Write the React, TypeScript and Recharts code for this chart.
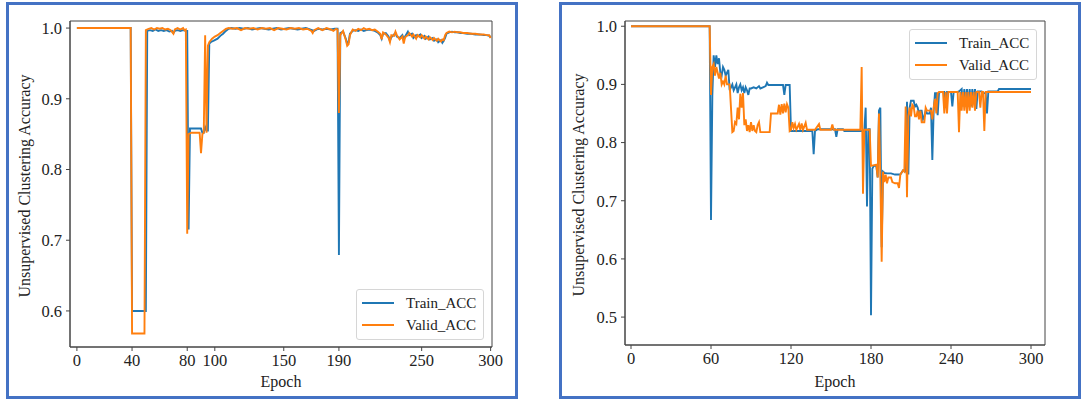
import { LineChart, Line, XAxis, YAxis, Legend, ReferenceArea } from "recharts";

const leftTicksX = [0, 40, 80, 100, 150, 190, 250, 300];
const leftTicksY = [0.6, 0.7, 0.8, 0.9, 1.0];
const rightTicksX = [0, 60, 120, 180, 240, 300];
const rightTicksY = [0.5, 0.6, 0.7, 0.8, 0.9, 1.0];

// [epoch, accuracy]
const leftTrain: [number, number][] = [
  [0, 1.0], [39, 1.0], [40, 0.6], [50, 0.6], [51, 0.996], [53, 0.997], [55, 0.996], [57, 0.998],
  [59, 0.996], [61, 0.997], [63, 0.996], [65, 0.997], [67, 0.995], [69, 0.996], [70, 0.993], [71, 0.996],
  [73, 0.997], [75, 0.996], [77, 0.997], [79, 0.996], [80, 0.996], [81, 0.715], [82, 0.858], [84, 0.858],
  [86, 0.858], [88, 0.858], [90, 0.858], [91, 0.852], [92, 0.852], [93, 0.86], [94, 0.855], [95, 0.855],
  [96, 0.978], [97, 0.98], [98, 0.981], [100, 0.983], [102, 0.985], [104, 0.989], [106, 0.992], [108, 0.996],
  [110, 0.999], [112, 1.0], [115, 0.999], [118, 1.0], [121, 0.999], [124, 1.0], [127, 0.998], [130, 0.999],
  [133, 1.0], [136, 0.999], [139, 0.998], [142, 0.999], [145, 1.0], [148, 0.998], [151, 0.999], [154, 1.0],
  [157, 0.999], [160, 0.998], [163, 0.999], [166, 1.0], [169, 0.998], [172, 0.996], [175, 0.999], [178, 0.998],
  [181, 0.999], [184, 0.998], [187, 0.999], [189, 0.999], [190, 0.679], [191, 0.993], [193, 0.995], [195, 0.985],
  [196, 0.978], [197, 0.98], [198, 0.992], [200, 0.996], [202, 0.997], [204, 0.996], [206, 0.998], [208, 0.996],
  [210, 0.997], [212, 0.998], [214, 0.997], [216, 0.996], [218, 0.994], [220, 0.99], [221, 0.985], [222, 0.992],
  [224, 0.993], [226, 0.988], [227, 0.982], [228, 0.987], [230, 0.991], [231, 0.993], [232, 0.988], [234, 0.986],
  [236, 0.99], [237, 0.984], [238, 0.988], [240, 0.995], [241, 0.99], [243, 0.992], [244, 0.986], [246, 0.99],
  [247, 0.988], [249, 0.991], [250, 0.986], [252, 0.989], [253, 0.985], [255, 0.988], [256, 0.984], [258, 0.986],
  [259, 0.982], [261, 0.984], [262, 0.98], [264, 0.983], [265, 0.979], [266, 0.982], [267, 0.986], [268, 0.992],
  [270, 0.994], [272, 0.995], [274, 0.994], [276, 0.994], [278, 0.993], [280, 0.993], [283, 0.992], [286, 0.992],
  [289, 0.991], [292, 0.991], [295, 0.99], [297, 0.99], [299, 0.989], [300, 0.987],
];

const leftValid: [number, number][] = [
  [0, 1.0], [39, 1.0], [40, 0.568], [49, 0.568], [50, 0.997], [52, 0.999], [54, 1.0], [56, 0.998],
  [58, 1.0], [60, 0.999], [62, 1.0], [64, 0.998], [66, 0.999], [68, 0.997], [70, 0.992], [71, 0.998],
  [73, 1.0], [75, 0.998], [77, 1.0], [78, 0.997], [79, 0.998], [80, 0.709], [81, 0.85], [83, 0.852],
  [85, 0.852], [87, 0.852], [89, 0.852], [90, 0.823], [91, 0.85], [92, 0.852], [93, 0.99], [94, 0.852],
  [95, 0.975], [96, 0.98], [98, 0.985], [100, 0.988], [102, 0.99], [104, 0.993], [106, 0.996], [108, 0.999],
  [110, 1.0], [113, 0.999], [116, 1.0], [119, 0.997], [122, 1.0], [125, 0.999], [128, 1.0], [131, 0.998],
  [134, 1.0], [137, 0.999], [140, 1.0], [143, 0.997], [146, 1.0], [149, 0.999], [152, 0.998], [155, 1.0],
  [158, 0.999], [161, 1.0], [164, 0.998], [167, 0.999], [170, 0.996], [171, 0.993], [172, 0.997], [175, 1.0],
  [178, 0.997], [181, 1.0], [184, 0.998], [186, 0.996], [188, 0.999], [189, 0.998], [190, 0.88], [191, 0.99],
  [193, 0.996], [195, 0.983], [196, 0.975], [197, 0.977], [198, 0.99], [200, 0.998], [202, 0.996], [204, 0.999],
  [206, 0.997], [208, 1.0], [210, 0.998], [212, 0.999], [214, 0.997], [216, 0.998], [218, 0.995], [220, 0.992],
  [221, 0.984], [222, 0.994], [224, 0.991], [226, 0.986], [227, 0.98], [228, 0.99], [230, 0.989], [231, 0.995],
  [232, 0.99], [234, 0.984], [236, 0.988], [237, 0.978], [238, 0.987], [240, 0.99], [241, 0.993], [243, 0.988],
  [244, 0.991], [246, 0.985], [247, 0.99], [249, 0.987], [250, 0.99], [252, 0.985], [253, 0.988], [255, 0.984],
  [256, 0.987], [258, 0.983], [259, 0.986], [261, 0.982], [262, 0.985], [264, 0.981], [265, 0.984], [266, 0.983],
  [267, 0.99], [268, 0.993], [270, 0.995], [272, 0.994], [274, 0.995], [276, 0.994], [278, 0.994], [280, 0.993],
  [283, 0.993], [286, 0.992], [289, 0.992], [292, 0.991], [295, 0.991], [297, 0.99], [299, 0.99], [300, 0.986],
];

// [epoch, accuracy]
const rightTrain: [number, number][] = [
  [0, 1.0], [59, 1.0], [60, 0.667], [61, 0.88], [62, 0.95], [63, 0.93], [64, 0.95], [65, 0.935],
  [66, 0.945], [67, 0.92], [68, 0.915], [69, 0.93], [70, 0.925], [71, 0.915], [72, 0.92], [73, 0.925],
  [74, 0.89], [75, 0.895], [76, 0.9], [77, 0.89], [78, 0.895], [79, 0.9], [80, 0.885], [81, 0.895],
  [82, 0.9], [83, 0.89], [84, 0.895], [85, 0.885], [86, 0.895], [87, 0.89], [88, 0.882], [89, 0.893],
  [90, 0.893], [92, 0.895], [94, 0.893], [96, 0.897], [97, 0.893], [99, 0.895], [101, 0.897], [102, 0.903],
  [103, 0.899], [105, 0.899], [110, 0.899], [114, 0.899], [115, 0.882], [116, 0.899], [119, 0.899], [120, 0.82],
  [125, 0.82], [130, 0.82], [136, 0.82], [137, 0.78], [138, 0.82], [140, 0.823], [145, 0.823], [150, 0.823],
  [153, 0.823], [154, 0.81], [155, 0.823], [159, 0.823], [160, 0.82], [170, 0.82], [175, 0.82], [176, 0.86],
  [177, 0.69], [178, 0.823], [179, 0.823], [180, 0.503], [181, 0.755], [182, 0.76], [184, 0.76], [185, 0.74],
  [186, 0.855], [187, 0.86], [188, 0.62], [189, 0.75], [190, 0.748], [192, 0.747], [195, 0.747], [198, 0.745],
  [200, 0.745], [202, 0.745], [204, 0.752], [206, 0.75], [207, 0.87], [208, 0.745], [209, 0.86], [210, 0.872],
  [212, 0.872], [213, 0.862], [214, 0.865], [215, 0.86], [216, 0.85], [217, 0.855], [218, 0.855], [219, 0.84],
  [220, 0.845], [221, 0.855], [222, 0.85], [224, 0.85], [225, 0.86], [226, 0.77], [227, 0.855], [228, 0.885],
  [229, 0.885], [230, 0.847], [231, 0.885], [232, 0.887], [235, 0.887], [236, 0.86], [237, 0.887], [240, 0.887],
  [241, 0.862], [242, 0.887], [245, 0.887], [246, 0.888], [248, 0.892], [249, 0.862], [250, 0.892], [251, 0.862],
  [252, 0.892], [253, 0.862], [254, 0.892], [255, 0.862], [256, 0.892], [257, 0.868], [258, 0.892], [259, 0.858],
  [260, 0.888], [263, 0.888], [264, 0.885], [266, 0.885], [267, 0.85], [268, 0.888], [270, 0.888], [275, 0.888],
  [276, 0.892], [280, 0.892], [290, 0.892], [300, 0.892],
];

const rightValid: [number, number][] = [
  [0, 1.0], [59, 1.0], [60, 0.882], [61, 0.93], [62, 0.935], [63, 0.915], [64, 0.93], [65, 0.92],
  [66, 0.91], [67, 0.92], [68, 0.9], [69, 0.905], [70, 0.9], [71, 0.915], [72, 0.9], [73, 0.9],
  [74, 0.9], [76, 0.818], [77, 0.82], [78, 0.835], [79, 0.832], [80, 0.86], [81, 0.84], [82, 0.884],
  [83, 0.86], [84, 0.885], [85, 0.83], [86, 0.84], [87, 0.82], [88, 0.83], [89, 0.818], [90, 0.835],
  [91, 0.82], [92, 0.83], [93, 0.82], [94, 0.818], [95, 0.83], [96, 0.835], [97, 0.818], [104, 0.818],
  [105, 0.85], [110, 0.85], [111, 0.865], [112, 0.848], [113, 0.866], [114, 0.85], [115, 0.867], [116, 0.852],
  [117, 0.866], [118, 0.86], [119, 0.82], [120, 0.822], [121, 0.835], [122, 0.825], [123, 0.832], [124, 0.822],
  [126, 0.832], [127, 0.822], [128, 0.833], [129, 0.822], [131, 0.834], [132, 0.822], [138, 0.822], [141, 0.832],
  [142, 0.822], [150, 0.822], [151, 0.831], [152, 0.822], [160, 0.822], [172, 0.822], [173, 0.93], [174, 0.712],
  [175, 0.822], [179, 0.822], [180, 0.76], [184, 0.762], [185, 0.74], [186, 0.85], [187, 0.74], [188, 0.595],
  [189, 0.75], [190, 0.732], [191, 0.745], [192, 0.73], [193, 0.74], [195, 0.74], [196, 0.732], [198, 0.73],
  [200, 0.73], [201, 0.722], [202, 0.745], [204, 0.752], [205, 0.75], [206, 0.862], [207, 0.706], [208, 0.845],
  [209, 0.86], [210, 0.845], [211, 0.865], [212, 0.862], [213, 0.845], [214, 0.845], [215, 0.855], [216, 0.84],
  [217, 0.855], [218, 0.835], [220, 0.835], [221, 0.86], [222, 0.855], [225, 0.855], [226, 0.84], [227, 0.86],
  [228, 0.875], [229, 0.85], [230, 0.885], [231, 0.887], [234, 0.887], [235, 0.85], [236, 0.887], [237, 0.85],
  [238, 0.887], [245, 0.887], [246, 0.818], [247, 0.887], [248, 0.855], [249, 0.887], [250, 0.855], [251, 0.887],
  [252, 0.85], [253, 0.887], [254, 0.855], [255, 0.887], [256, 0.86], [257, 0.887], [258, 0.855], [259, 0.887],
  [261, 0.887], [262, 0.86], [263, 0.887], [264, 0.887], [265, 0.82], [266, 0.887], [300, 0.887],
];

const FONT = "'Liberation Serif', 'DejaVu Serif', serif";
const BLUE = "#1f77b4";
const ORANGE = "#ff7f0e";
const AXIS = "#444";

const toRows = (pts: [number, number][]) => pts.map(([epoch, acc]) => ({ epoch, acc }));

interface PanelProps {
  left: number;
  width: number;
  margin: { top: number; right: number; bottom: number; left: number };
  xDomain: [number, number];
  yDomain: [number, number];
  xTicks: number[];
  yTicks: number[];
  train: [number, number][];
  valid: [number, number][];
  legendPos: { left: number; top: number };
  yLabelX: number;
}

function LegendBox({ payload }: any) {
  return (
    <div
      style={{
        width: 126,
        height: 47,
        border: "1px solid #d6d6d6",
        borderRadius: 3,
        background: "rgba(255,255,255,0.85)",
        fontFamily: FONT,
        fontSize: 15,
        color: "#222",
        paddingTop: 2,
        boxSizing: "content-box",
      }}
    >
      {(payload || []).map((p: any) => (
        <div key={p.value} style={{ display: "flex", alignItems: "center", height: 22 }}>
          <div style={{ width: 32, height: 2, background: p.color, marginLeft: 5, marginRight: 12 }} />
          <span>{p.value}</span>
        </div>
      ))}
    </div>
  );
}

function Panel(p: PanelProps) {
  const tickStyle = { fill: "#222", fontSize: 16.5, fontFamily: FONT };
  return (
    <div style={{ position: "absolute", left: p.left, top: 0, fontFamily: FONT }}>
      <LineChart width={p.width} height={403} margin={p.margin} style={{ fontFamily: FONT }}>
        <XAxis
          dataKey="epoch"
          type="number"
          domain={p.xDomain}
          ticks={p.xTicks}
          interval={0}
          allowDataOverflow
          height={30}
          tick={tickStyle}
          tickSize={4}
          tickMargin={3}
          stroke={AXIS}
          label={{
            content: ({ viewBox }: any) => (
              <text
                x={viewBox.x + viewBox.width / 2}
                y={387}
                textAnchor="middle"
                fontFamily={FONT}
                fontSize={16}
                fill="#222"
              >
                Epoch
              </text>
            ),
          }}
        />
        <YAxis
          type="number"
          domain={p.yDomain}
          ticks={p.yTicks}
          interval={0}
          allowDataOverflow
          width={40}
          tick={tickStyle}
          tickSize={4}
          tickMargin={4}
          tickFormatter={(v) => Number(v).toFixed(1)}
          stroke={AXIS}
          label={{
            content: ({ viewBox }: any) => {
              const cy = viewBox.y + viewBox.height / 2 + 2;
              return (
                <text
                  x={p.yLabelX}
                  y={cy}
                  transform={`rotate(-90, ${p.yLabelX}, ${cy})`}
                  textAnchor="middle"
                  fontFamily={FONT}
                  fontSize={16}
                  fill="#222"
                >
                  Unsupervised Clustering Accuracy
                </text>
              );
            },
          }}
        />
        <ReferenceArea
          x1={p.xDomain[0]}
          x2={p.xDomain[1]}
          y1={p.yDomain[0]}
          y2={p.yDomain[1]}
          fill="none"
          stroke={AXIS}
          strokeWidth={1}
          ifOverflow="visible"
        />
        <Line
          data={toRows(p.train)}
          dataKey="acc"
          name="Train_ACC"
          type="linear"
          stroke={BLUE}
          strokeWidth={1.9}
          dot={false}
          isAnimationActive={false}
        />
        <Line
          data={toRows(p.valid)}
          dataKey="acc"
          name="Valid_ACC"
          type="linear"
          stroke={ORANGE}
          strokeWidth={1.9}
          dot={false}
          isAnimationActive={false}
        />
        <Legend
          layout="vertical"
          align="center"
          verticalAlign="middle"
          content={LegendBox}
          wrapperStyle={{ left: p.legendPos.left, top: p.legendPos.top, width: 128, height: 49 }}
        />
      </LineChart>
    </div>
  );
}

export default function App() {
  return (
    <div
      style={{
        position: "absolute",
        left: 0,
        top: 0,
        width: 1083,
        height: 403,
        background: "#fff",
        overflow: "hidden",
        fontFamily: FONT,
      }}
    >
      <div
        style={{
          position: "absolute",
          left: 6,
          top: 2,
          width: 512,
          height: 397,
          border: "3px solid #4472c4",
          boxSizing: "border-box",
        }}
      />
      <div
        style={{
          position: "absolute",
          left: 559,
          top: 2,
          width: 522,
          height: 397,
          border: "3px solid #4472c4",
          boxSizing: "border-box",
        }}
      />
      <Panel
        left={0}
        width={540}
        margin={{ top: 21, right: 48, bottom: 26, left: 30 }}
        xDomain={[-5, 301]}
        yDomain={[0.549, 1.01]}
        xTicks={leftTicksX}
        yTicks={leftTicksY}
        train={leftTrain}
        valid={leftValid}
        legendPos={{ left: 356, top: 289 }}
        yLabelX={30}
      />
      <Panel
        left={540}
        width={543}
        margin={{ top: 21, right: 38, bottom: 28, left: 45 }}
        xDomain={[-4.5, 310.5]}
        yDomain={[0.452, 1.009]}
        xTicks={rightTicksX}
        yTicks={rightTicksY}
        train={rightTrain}
        valid={rightValid}
        legendPos={{ left: 369, top: 29 }}
        yLabelX={44}
      />
    </div>
  );
}
